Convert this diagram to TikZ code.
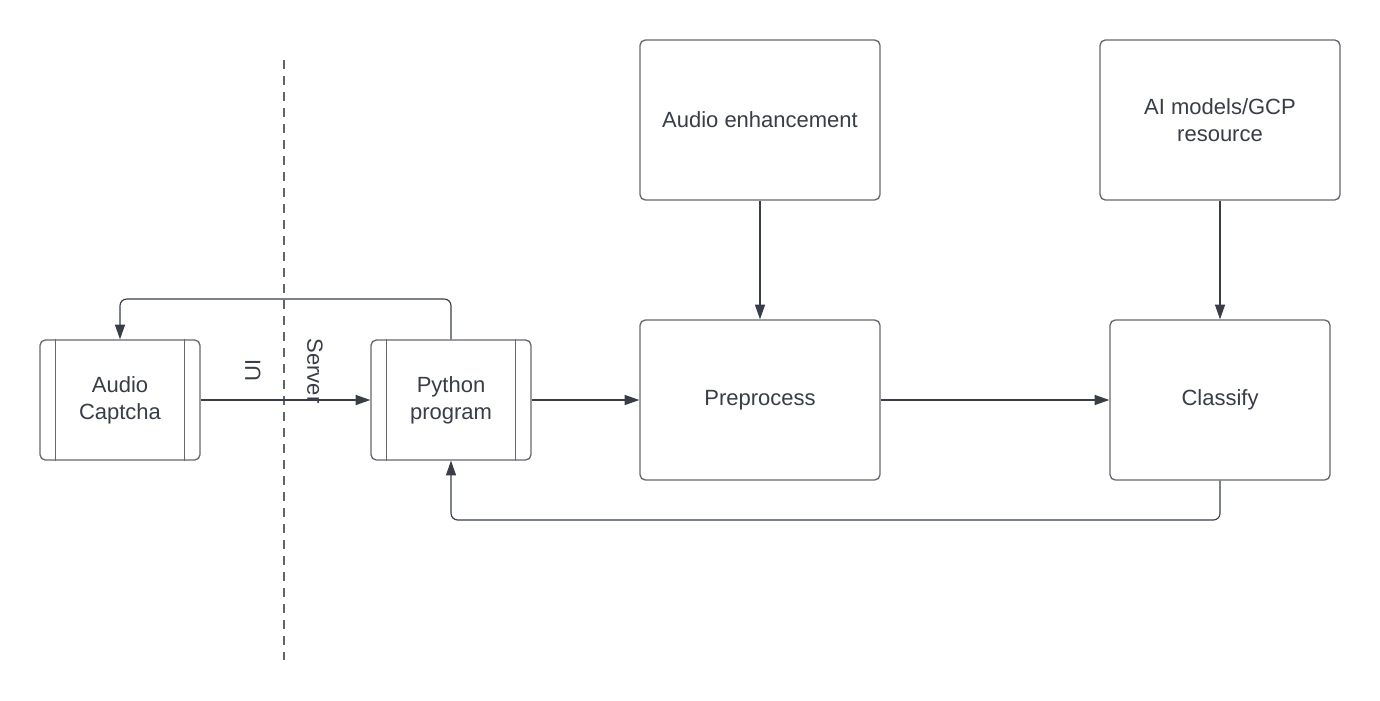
\documentclass[tikz,border=0pt]{standalone}
\usepackage{fontspec}
\setmainfont{Liberation Sans}
\usetikzlibrary{arrows.meta}
\definecolor{ink}{RGB}{56,61,72}
\definecolor{boxline}{RGB}{100,104,112}
\tikzset{
  box/.style={draw=boxline, line width=1pt, rounded corners=4pt, fill=white, text=ink, font=\fontsize{16.5}{20}\selectfont, align=center, inner sep=0pt},
  conn/.style={draw=ink, line width=0.85pt, -{Triangle[length=11pt,width=7.5pt]}, rounded corners=5pt},
  lbl/.style={text=ink, font=\fontsize{16.5}{20}\selectfont}
}
\begin{document}
\begin{tikzpicture}[x=0.75pt,y=-0.75pt]
\useasboundingbox (0,0) rectangle (1380,700);
% dashed divider
\draw[ink!80, line width=0.8pt, dash pattern=on 7pt off 5pt] (284,60) coordinate (dtop) -- (284,660) coordinate (dbot);
% nodes
\node[box, minimum width=120pt, minimum height=90pt] (cap) at (120,400) {Audio\\Captcha};
\draw[boxline, line width=1pt] ([xshift=12pt]cap.north west) -- ([xshift=12pt]cap.south west);
\draw[boxline, line width=1pt] ([xshift=-12pt]cap.north east) -- ([xshift=-12pt]cap.south east);
\node[box, minimum width=120pt, minimum height=90pt] (py) at (451,400) {Python\\program};
\draw[boxline, line width=1pt] ([xshift=12pt]py.north west) -- ([xshift=12pt]py.south west);
\draw[boxline, line width=1pt] ([xshift=-12pt]py.north east) -- ([xshift=-12pt]py.south east);
\node[box, minimum width=180pt, minimum height=120pt] (pre) at (760,400) {Preprocess};
\node[box, minimum width=165pt, minimum height=120pt] (cls) at (1220,400) {Classify};
\node[box, minimum width=180pt, minimum height=120pt] (enh) at (760,120) {Audio enhancement};
\node[box, minimum width=180pt, minimum height=120pt] (ai) at (1220,120) {AI models/GCP\\resource};
% labels
\node[lbl, rotate=90] (ui) at (253,370) {UI};
\node[lbl, rotate=-90] (srv) at (315,371) {Server};
% connectors
\draw[conn] (cap.east) -- (py.west);
\draw[conn] (py.east) -- (pre.west);
\draw[conn] (pre.east) -- (cls.west);
\draw[conn] (enh.south) -- (pre.north);
\draw[conn] (ai.south) -- (cls.north);
\draw[conn] (py.north) -- (451,299) -- (120,299) -- (cap.north);
\draw[conn] (cls.south) -- (1220,520) -- (451,520) -- (py.south);
\end{tikzpicture}
\end{document}
